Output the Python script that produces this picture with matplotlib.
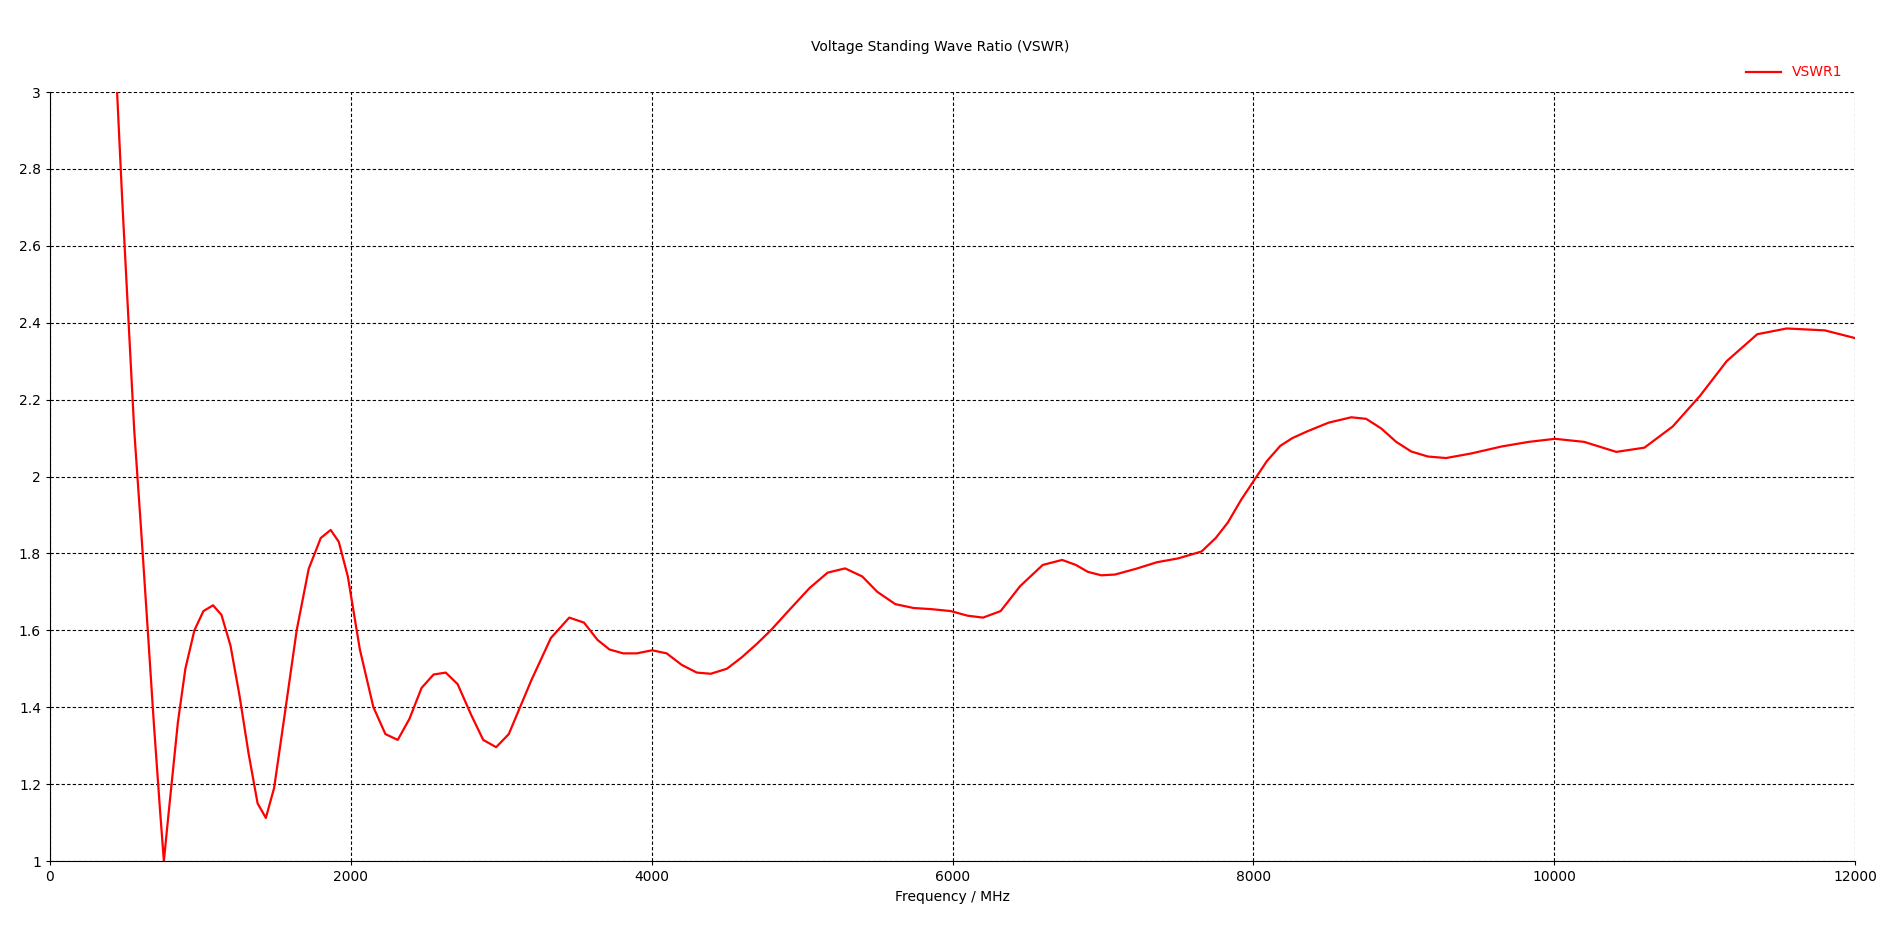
import numpy as np
import matplotlib
matplotlib.use("Agg")
import matplotlib.pyplot as plt

# VSWR samples (frequency in MHz)
freq = [446, 480, 520, 560, 606, 650, 690, 730, 757, 790, 850, 900, 960, 1020, 1084,
        1140, 1200, 1260, 1320, 1380, 1435, 1490, 1560, 1640, 1720, 1800, 1866, 1920,
        1980, 2060, 2150, 2230, 2312, 2390, 2470, 2550, 2631, 2710, 2800, 2880, 2966,
        3050, 3200, 3330, 3452, 3550, 3640, 3720, 3811, 3900, 4003, 4100, 4200, 4300,
        4393, 4500, 4600, 4700, 4792, 4920, 5050, 5170, 5286, 5400, 5500, 5620, 5741,
        5860, 5988, 6100, 6203, 6320, 6450, 6600, 6729, 6820, 6900, 6990, 7080, 7220,
        7359, 7500, 7656, 7750, 7830, 7920, 8005, 8090, 8180, 8260, 8356, 8500, 8651,
        8750, 8850, 8950, 9050, 9160, 9281, 9450, 9650, 9830, 10006, 10200, 10413,
        10600, 10788, 10970, 11147, 11350, 11546, 11800, 12000]
vswr = [3.0, 2.72, 2.42, 2.12, 1.86, 1.6, 1.36, 1.14, 1.0, 1.13, 1.36, 1.5, 1.6, 1.65, 1.665,
        1.64, 1.56, 1.43, 1.28, 1.15, 1.112, 1.19, 1.38, 1.6, 1.76, 1.84, 1.861, 1.83,
        1.74, 1.55, 1.40, 1.33, 1.315, 1.37, 1.45, 1.485, 1.49, 1.46, 1.38, 1.315, 1.296,
        1.33, 1.47, 1.58, 1.633, 1.62, 1.575, 1.55, 1.54, 1.54, 1.548, 1.54, 1.51, 1.49,
        1.487, 1.50, 1.53, 1.565, 1.6, 1.655, 1.71, 1.75, 1.761, 1.74, 1.70, 1.668, 1.658,
        1.655, 1.65, 1.638, 1.633, 1.65, 1.715, 1.77, 1.783, 1.77, 1.752, 1.743, 1.745, 1.76,
        1.777, 1.787, 1.805, 1.84, 1.88, 1.94, 1.99, 2.04, 2.08, 2.10, 2.117, 2.14, 2.154,
        2.15, 2.125, 2.09, 2.065, 2.052, 2.048, 2.06, 2.078, 2.09, 2.098, 2.09, 2.064,
        2.075, 2.13, 2.21, 2.30, 2.37, 2.385, 2.38, 2.36]

fig = plt.figure(figsize=(18.8, 9.3), dpi=100)
ax = fig.add_axes([50 / 1880, 69 / 930, 1805 / 1880, 769 / 930])
ax.plot(freq, vswr, color='#ff0000', lw=1.6, label='VSWR1')
ax.set_xlim(0, 12000)
ax.set_ylim(1, 3)
ax.set_xticks(np.arange(0, 12001, 2000))
ax.set_yticks(np.arange(1, 3.01, 0.2))
ax.set_yticklabels(['1', '1.2', '1.4', '1.6', '1.8', '2', '2.2', '2.4', '2.6', '2.8', '3'])
ax.grid(True, color='black', linestyle=(0, (3, 2)), lw=0.8)
ax.tick_params(labelsize=10, length=3)
for s in ['top', 'right']:
    ax.spines[s].set_visible(False)
ax.set_xlabel('Frequency / MHz', fontsize=10)
fig.text(0.5, 1 - 47 / 930, 'Voltage Standing Wave Ratio (VSWR)', ha='center', va='center', fontsize=10)
leg = ax.legend(loc='lower right', bbox_to_anchor=(1.0, 1.0), frameon=False, fontsize=10,
                handlelength=2.5)
for t in leg.get_texts():
    t.set_color('#ff0000')
fig.savefig('out.png', dpi=100)
